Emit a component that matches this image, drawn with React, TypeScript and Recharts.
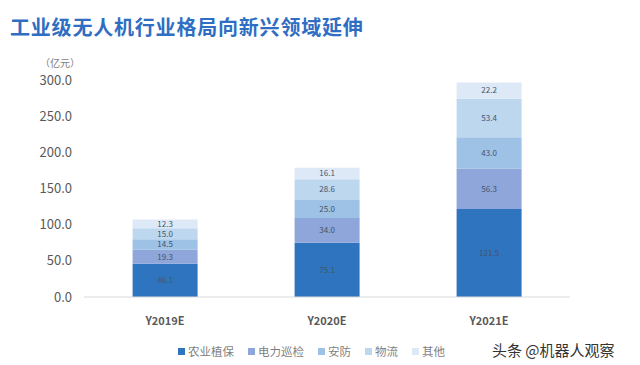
import React from "react";
import { BarChart, Bar, XAxis, YAxis, LabelList } from "recharts";

const categories = ["Y2019E", "Y2020E", "Y2021E"];
const seriesNames = ["农业植保", "电力巡检", "安防", "物流", "其他"];
const agri = [46.1, 75.1, 121.5];
const power = [19.3, 34.0, 56.3];
const security = [14.5, 25.0, 43.0];
const logistics = [15.0, 28.6, 53.4];
const others = [12.3, 16.1, 22.2];
const yTicks = [0, 50, 100, 150, 200, 250, 300];
const colors = ["#2F74BF", "#8EA6DA", "#9EC1E6", "#BDD7EF", "#DDE9F6"];

const seriesValues = [agri, power, security, logistics, others];
const data = categories.map((c, i) => {
  const row: Record<string, string | number> = { name: c };
  seriesNames.forEach((s, j) => {
    row[s] = seriesValues[j][i];
  });
  return row;
});

const font = "'Noto Sans CJK SC', 'Noto Sans', sans-serif";

export default function App() {
  return (
    <div style={{ position: "absolute", left: 0, top: 0, width: 640, height: 365, background: "#fff", fontFamily: font }}>
      <div style={{ position: "absolute", left: 10, top: 14, fontSize: 20, fontWeight: 700, color: "#2F6EC2", letterSpacing: 0.8, lineHeight: "26px", whiteSpace: "nowrap" }}>
        工业级无人机行业格局向新兴领域延伸
      </div>
      <div style={{ position: "absolute", left: 40, top: 55, fontSize: 10, color: "#7F7F7F", whiteSpace: "nowrap" }}>（亿元）</div>
      <BarChart width={640} height={365} data={data} margin={{ top: 80, right: 70, bottom: 38, left: 0 }} barCategoryGap="30%">
        <XAxis
          dataKey="name"
          height={30}
          axisLine={{ stroke: "#D9D9D9" }}
          tickLine={false}
          tick={{ fontSize: 11, fill: "#595959", fontWeight: 700, fontFamily: font }}
          tickMargin={14}
        />
        <YAxis
          width={84}
          domain={[0, 300]}
          ticks={yTicks}
          interval={0}
          axisLine={false}
          tickLine={false}
          tickSize={0}
          tickMargin={12}
          tickFormatter={(v: number) => v.toFixed(1)}
          tick={{ fontSize: 13, fill: "#595959", fontFamily: font }}
        />
        {seriesNames.map((s, j) => (
          <Bar key={s} dataKey={s} stackId="a" fill={colors[j]} isAnimationActive={false}>
            <LabelList
              dataKey={s}
              position="center"
              formatter={(v: number) => Number(v).toFixed(1)}
              style={{ fontSize: 8, fill: "#44546A", fontFamily: font }}
            />
          </Bar>
        ))}
      </BarChart>
      <div style={{ position: "absolute", left: 178, top: 343, display: "flex", fontSize: 11.5, color: "#7F7F7F", whiteSpace: "nowrap" }}>
        {seriesNames.map((s, j) => (
          <div key={s} style={{ display: "flex", alignItems: "center", marginRight: 14 }}>
            <span style={{ display: "inline-block", width: 7, height: 7, background: colors[j], marginRight: 3 }} />
            <span>{s}</span>
          </div>
        ))}
      </div>
      <div style={{ position: "absolute", left: 492, top: 339, fontSize: 15, color: "#333", whiteSpace: "nowrap", textShadow: "0 0 2px #fff" }}>
        头条 @机器人观察
      </div>
    </div>
  );
}
